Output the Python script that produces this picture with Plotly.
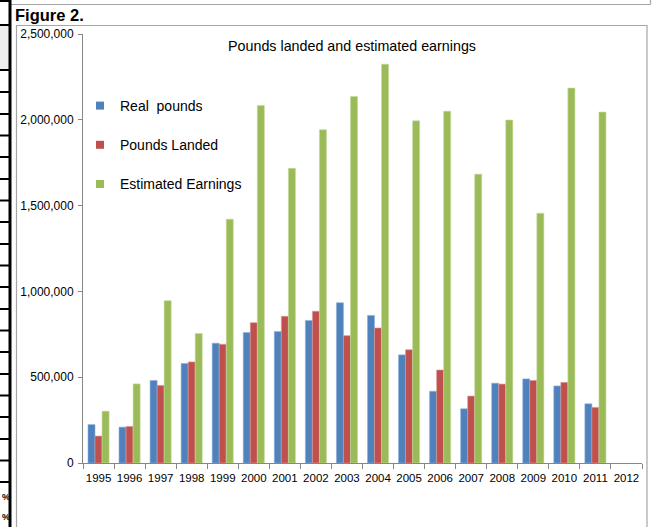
import plotly.graph_objects as go

years = [str(y) for y in range(1995, 2013)]
real_pounds = [224000, 209000, 481000, 580000, 698000, 760000, 766000, 831000, 934000, 860000,
               630000, 418000, 316000, 465000, 490000, 449000, 345000, None]
pounds_landed = [157000, 213000, 452000, 589000, 692000, 818000, 855000, 884000, 742000, 787000,
                 660000, 542000, 390000, 460000, 481000, 470000, 324000, None]
estimated_earnings = [302000, 461000, 946000, 754000, 1421000, 2084000, 1717000, 1942000, 2136000, 2324000,
                      1994000, 2050000, 1683000, 1999000, 1455000, 2185000, 2045000, None]

series_names = ["Real\u00a0 pounds", "Pounds Landed", "Estimated Earnings"]
series_values = [real_pounds, pounds_landed, estimated_earnings]
colors = ["#4F81BD", "#C0504D", "#9BBB59"]
edge_colors = ["#8FB0DA", "#DA9896", "#C4DA9A"]

W, H = 654, 527
L, R, T, B = 83, 12, 34, 64
PW, PH = W - L - R, H - T - B


def px(x):
    return (x - L) / PW


def py(y):
    return (H - B - y) / PH


fig = go.Figure()
for name, vals, c, ec in zip(series_names, series_values, colors, edge_colors):
    fig.add_trace(go.Bar(x=years, y=vals, name=name, marker=dict(color=c, line=dict(color=ec, width=0.6)),
                         showlegend=False, hoverinfo="skip"))
    fig.add_trace(go.Scatter(x=[None], y=[None], mode="markers", name=name, legendgroup=name,
                             marker=dict(symbol="square", size=8, color=c), showlegend=True))

shapes = []
gray = "#A6A6A6"
# chart area frame
shapes.append(dict(type="rect", xref="paper", yref="paper", x0=px(16.5), x1=px(647), y0=py(540), y1=py(25.5),
                   line=dict(color=gray, width=1.2), fillcolor="rgba(0,0,0,0)", layer="below"))
# top box line
shapes.append(dict(type="line", xref="paper", yref="paper", x0=px(11), x1=px(650.5), y0=py(4.5), y1=py(4.5),
                   line=dict(color=gray, width=1.2)))
shapes.append(dict(type="line", xref="paper", yref="paper", x0=px(650.5), x1=px(650.5), y0=py(-2), y1=py(4.5),
                   line=dict(color=gray, width=1.2)))
# spreadsheet cells on the left edge
shapes.append(dict(type="rect", xref="paper", yref="paper", x0=px(-2), x1=px(9), y0=py(70), y1=py(25),
                   line=dict(width=0), fillcolor="#EFEFEF"))
shapes.append(dict(type="line", xref="paper", yref="paper", x0=px(10), x1=px(10), y0=py(-2), y1=py(530),
                   line=dict(color="black", width=3)))
row_lines = [1, 25, 70, 92, 114, 135.5, 157, 179, 200.5, 222, 244, 265.5, 287, 309, 330.5, 352, 374,
             395.5, 417, 439, 460.5, 482]
for yy in row_lines:
    shapes.append(dict(type="line", xref="paper", yref="paper", x0=px(-2), x1=px(10), y0=py(yy), y1=py(yy),
                       line=dict(color="black", width=2)))

annotations = [
    dict(text="<b>Figure 2.</b>", xref="paper", yref="paper", x=px(13), y=py(14.5), xanchor="left",
         yanchor="middle", showarrow=False, font=dict(family="Liberation Sans, Arial", size=16.5, color="black")),
    dict(text="<b>%</b>", xref="paper", yref="paper", x=px(0), y=py(497), xanchor="left",
         yanchor="middle", showarrow=False, font=dict(family="Liberation Sans, Arial", size=9, color="black")),
    dict(text="<b>%</b>", xref="paper", yref="paper", x=px(0), y=py(517), xanchor="left",
         yanchor="middle", showarrow=False, font=dict(family="Liberation Sans, Arial", size=9, color="black")),
]

fig.update_layout(
    width=W, height=H,
    margin=dict(l=L, r=R, t=T, b=B, pad=0, autoexpand=False),
    paper_bgcolor="white", plot_bgcolor="white",
    font=dict(family="Liberation Sans, Arial", size=11, color="black"),
    title=dict(text="Pounds landed and estimated earnings", x=352 / W, xanchor="center",
               y=1 - 46 / H, yanchor="middle", yref="container",
               font=dict(family="Liberation Sans, Arial", size=14.3, color="black")),
    barmode="group", bargap=0.32, bargroupgap=0,
    showlegend=True,
    legend=dict(x=px(80), y=py(90), xanchor="left", yanchor="top", bgcolor="rgba(0,0,0,0)",
                font=dict(family="Liberation Sans, Arial", size=14, color="black"),
                tracegroupgap=18, itemwidth=30),
    xaxis=dict(type="category", showline=True, linecolor="#868686", linewidth=1, ticks="outside",
               tickson="boundaries", ticklen=5, tickcolor="#868686", showgrid=False, tickangle=0,
               ticklabelstandoff=4, tickfont=dict(size=11.5), range=[-0.5, 17.5], automargin=False),
    yaxis=dict(range=[0, 2500000], tickvals=[0, 500000, 1000000, 1500000, 2000000, 2500000],
               tickformat=",", showline=True, linecolor="#868686", linewidth=1, ticks="outside",
               ticklen=4, tickcolor="#868686", showgrid=False, zeroline=False, ticklabelstandoff=2,
               tickfont=dict(size=12), fixedrange=True, automargin=False),
    shapes=shapes, annotations=annotations,
)

fig.write_html("out.html", config={"displayModeBar": False},
               post_script="document.body.style.margin='0';document.body.style.overflow='hidden';")
